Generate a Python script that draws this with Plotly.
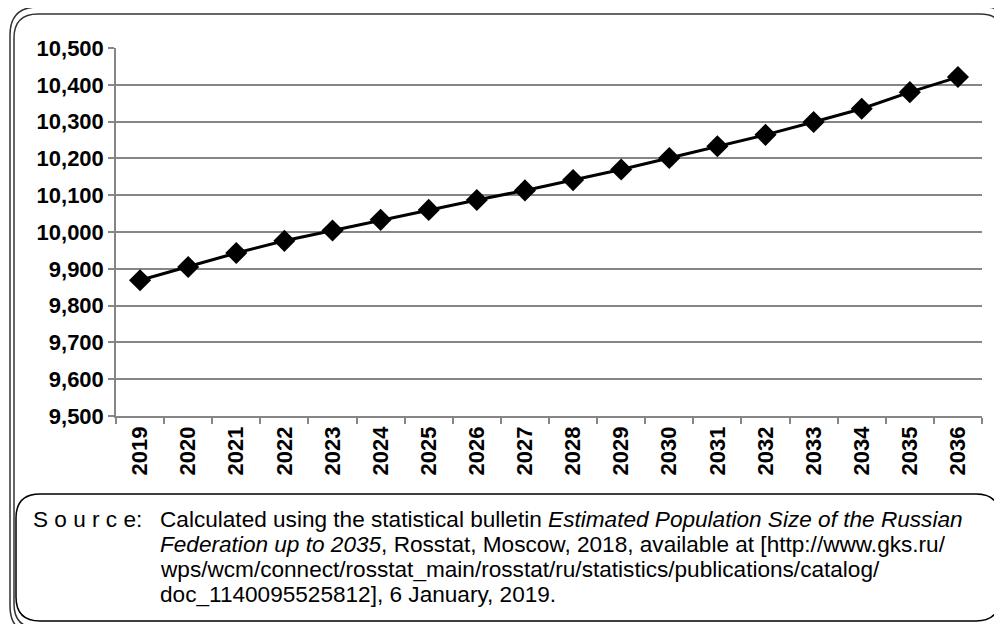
import plotly.graph_objects as go

years = [str(y) for y in range(2019, 2037)]
population = [9869, 9905, 9943, 9976, 10004, 10033, 10060, 10087, 10113,
              10141, 10170, 10201, 10233, 10264, 10299, 10335, 10380, 10421]
y_ticks = list(range(9500, 10501, 100))
source_lines = [
    "Calculated using the statistical bulletin <i>Estimated Population Size of the Russian</i>",
    "<i>Federation up to 2035</i>, Rosstat, Moscow, 2018, available at [http://www.gks.ru/",
    "wps/wcm/connect/rosstat_main/rosstat/ru/statistics/publications/catalog/",
    "doc_1140095525812], 6 January, 2019.",
]

W, H = 1002, 624
OFF = 8  # page body margin offset

def px(x):
    return (x - OFF) / W

def py(y):
    return 1 - (y - OFF) / H

def rrect(x0, y0, x1, y1, r):
    pts = [
        f"M {px(x0 + r)},{py(y0)}",
        f"L {px(x1 - r)},{py(y0)}",
        f"Q {px(x1)},{py(y0)} {px(x1)},{py(y0 + r)}",
        f"L {px(x1)},{py(y1 - r)}",
        f"Q {px(x1)},{py(y1)} {px(x1 - r)},{py(y1)}",
        f"L {px(x0 + r)},{py(y1)}",
        f"Q {px(x0)},{py(y1)} {px(x0)},{py(y1 - r)}",
        f"L {px(x0)},{py(y0 + r)}",
        f"Q {px(x0)},{py(y0)} {px(x0 + r)},{py(y0)}",
        "Z",
    ]
    return " ".join(pts)

fig = go.Figure()
fig.add_trace(go.Scatter(
    x=years, y=population, mode="lines+markers",
    line=dict(color="black", width=3),
    marker=dict(symbol="diamond", size=17, color="black"),
    showlegend=False, hoverinfo="x+y",
))

gray = "#868686"
FONT = "Liberation Sans, Arial, sans-serif"

annotations = [
    dict(xref="paper", yref="paper", x=px(31), y=py(534), xanchor="left", yanchor="bottom",
         showarrow=False, align="left", text="S o u r c e:", font=dict(size=22.6)),
]
for i, line in enumerate(source_lines):
    annotations.append(dict(
        xref="paper", yref="paper", x=px(158), y=py(534 + 25 * i),
        xanchor="left", yanchor="bottom", showarrow=False, align="left",
        text=line, font=dict(size=22.6)))

fig.update_layout(
    width=W, height=H, autosize=False,
    margin=dict(l=0, r=0, t=0, b=0, pad=0),
    paper_bgcolor="white", plot_bgcolor="white",
    font=dict(family=FONT, color="black"),
    xaxis=dict(
        domain=[px(116), px(982)], automargin=False,
        type="category", range=[-0.5, 17.5],
        tickson="boundaries", ticks="outside", ticklen=6, tickcolor=gray, tickwidth=1.5,
        showline=True, linecolor=gray, linewidth=1.5,
        showgrid=False, tickangle=-90,
        tickfont=dict(size=22, family=FONT, weight="bold"),
    ),
    yaxis=dict(
        domain=[py(416), py(48)], automargin=False,
        range=[9500, 10500], tickvals=y_ticks, tickformat=",",
        ticks="outside", ticklen=6, tickcolor=gray, tickwidth=1.5,
        showline=True, linecolor=gray, linewidth=1.5,
        showgrid=True, gridcolor=gray, gridwidth=1.5, zeroline=False,
        tickfont=dict(size=22, family=FONT, weight="bold"),
    ),
    shapes=[
        dict(type="path", xref="paper", yref="paper", path=rrect(10, 7, 1012, 634, 28),
             line=dict(color="#333333", width=1.5)),
        dict(type="path", xref="paper", yref="paper", path=rrect(14, 14, 1004, 628, 24),
             line=dict(color="#333333", width=1.5)),
        dict(type="path", xref="paper", yref="paper", path=rrect(16, 494, 1000, 621, 24),
             line=dict(color="black", width=1.5)),
    ],
    annotations=annotations,
)

fig.write_html("out.html")
